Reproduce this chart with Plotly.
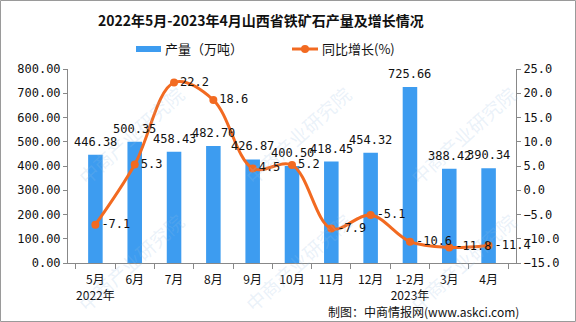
import plotly.graph_objects as go

months = ["5月<br>2022年", "6月", "7月", "8月", "9月", "10月", "11月", "12月",
          "1-2月<br>2023年", "3月", "4月"]
output = [446.38, 500.35, 458.43, 482.70, 426.87, 400.50, 418.45, 454.32,
          725.66, 388.42, 390.34]
growth = [-7.1, 5.3, 22.2, 18.6, 4.5, 5.2, -7.9, -5.1, -10.6, -11.8, -11.4]

W, H = 576, 322
L, R, T, B = 68, 60, 69, 59
PW, PH = W - L - R, H - T - B

BAR = "#3d9cf0"
LINE = "#f26a21"
MONO = "'DejaVu Sans Mono', 'Liberation Mono', monospace"
CJK = "'Noto Sans CJK SC', sans-serif"


def px(x):
    return (x - L) / PW


def py(y):
    return (H - B - y) / PH


def note(x, y, text, size, color="#111", xanchor="center", angle=0):
    fig.add_annotation(x=px(x), y=py(y), xref="paper", yref="paper",
                       xanchor=xanchor, yanchor="middle", showarrow=False,
                       text=text, textangle=angle,
                       font=dict(family=CJK, size=size, color=color))


fig = go.Figure()

# watermark
for cx in [130, 297, 462]:
    for cy in [135, 262]:
        note(cx, cy, "中商产业研究院", 19, "rgba(150,190,225,0.2)", angle=-42)

fig.add_trace(go.Bar(
    x=months, y=output, name="产量（万吨）",
    marker=dict(color=BAR, line=dict(width=0)),
    width=0.37,
))

# value labels above the bars
for m, v in zip(months, output):
    fig.add_annotation(x=m, y=v, xref="x", yref="y", showarrow=False,
                       yanchor="middle", yshift=13, text=f"{v:.2f}",
                       font=dict(family=MONO, size=12, color="#111"))

fig.add_trace(go.Scatter(
    x=months, y=growth, name="同比增长(%)", yaxis="y2",
    mode="lines+markers+text",
    line=dict(color=LINE, width=3, shape="spline", smoothing=1.0),
    marker=dict(color=LINE, size=8),
    text=[f"{v:.1f}" for v in growth], textposition="middle right",
    textfont=dict(family=MONO, size=12, color="#111"),
    cliponaxis=False,
))

# legend drawn by hand
fig.add_shape(type="rect", xref="paper", yref="paper",
              x0=px(136), x1=px(161), y0=py(52), y1=py(46),
              fillcolor=BAR, line=dict(width=0))
note(163, 49, "产量（万吨）", 13, xanchor="left")
fig.add_shape(type="line", xref="paper", yref="paper",
              x0=px(292), x1=px(318), y0=py(49), y1=py(49),
              line=dict(color=LINE, width=3))
fig.add_shape(type="circle", xref="paper", yref="paper",
              x0=px(301), x1=px(309), y0=py(53), y1=py(45),
              fillcolor=LINE, line=dict(width=0))
note(320, 49, "同比增长(%)", 13, xanchor="left")

# title
note(261, 20, "<b>2022年5月-2023年4月山西省铁矿石产量及增长情况</b>", 14)

# source note
note(521, 311, "制图：中商情报网(www.askci.com)", 12, xanchor="right")

# outer border
fig.add_shape(type="rect", xref="paper", yref="paper",
              x0=px(0.5), x1=px(W - 0.5), y0=py(H - 0.5), y1=py(0.5),
              line=dict(color="#9a9a9a", width=1))

fig.update_layout(
    width=W, height=H,
    margin=dict(l=L, r=R, t=T, b=B, autoexpand=False),
    paper_bgcolor="white", plot_bgcolor="white",
    showlegend=False,
    xaxis=dict(
        type="category", showline=True, linecolor="#888", linewidth=1,
        ticks="outside", tickson="boundaries", ticklen=5, tickcolor="#888",
        tickangle=0, automargin=False, ticklabelstandoff=6,
        tickfont=dict(family=CJK, size=12, color="#111"),
        showgrid=False, zeroline=False,
    ),
    yaxis=dict(
        range=[0, 800], dtick=100, tickformat=".2f", automargin=False,
        showline=True, linecolor="#888", linewidth=1,
        ticks="outside", ticklen=4, tickcolor="#888",
        tickfont=dict(family=MONO, size=12, color="#111"),
        showgrid=False, zeroline=False,
    ),
    yaxis2=dict(
        overlaying="y", side="right", range=[-15, 25], dtick=5,
        tickformat=".1f", automargin=False,
        showline=True, linecolor="#888", linewidth=1,
        ticks="outside", ticklen=4, tickcolor="#888",
        tickfont=dict(family=MONO, size=12, color="#111"),
        showgrid=False, zeroline=False,
    ),
)

fig.write_html("out.html")
